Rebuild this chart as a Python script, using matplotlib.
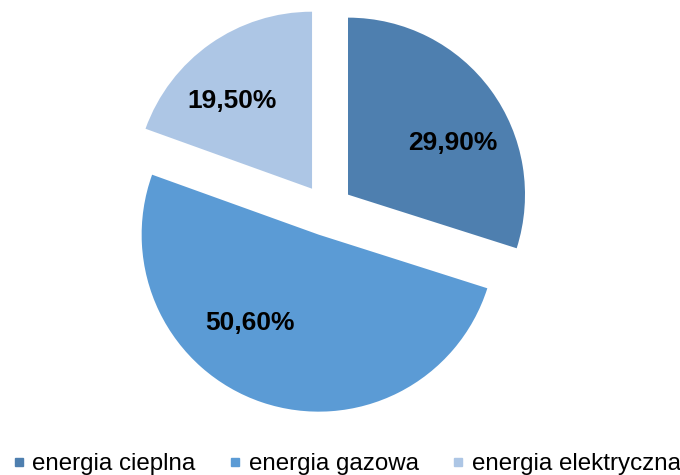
import numpy as np
import matplotlib.pyplot as plt
from matplotlib.lines import Line2D

plt.rcParams['font.family'] = ['Liberation Sans', 'DejaVu Sans']

# data
labels = ['energia cieplna', 'energia gazowa', 'energia elektryczna']
values = [29.9, 50.6, 19.5]
colors = ['#4E7FAF', '#5B9BD5', '#ADC6E5']

fig = plt.figure(figsize=(6.8, 4.75), dpi=100)
ax = fig.add_axes([0, 0, 1, 1])

R = 177.0  # pie radius in px
cx, cy = 327.0, 265.0  # centre in px from bottom-left

wedges, texts, autotexts = ax.pie(values, colors=colors, startangle=90, counterclock=False,
                                  explode=[0.147] * 3, radius=1,
                                  autopct=lambda p: ('%.2f%%' % p).replace('.', ','),
                                  pctdistance=0.8,
                                  textprops=dict(fontsize=19, fontweight='bold', color='black'))
ax.set_aspect('auto')
ax.set_xlim(-cx / R, (680 - cx) / R)
ax.set_ylim(-cy / R, (475 - cy) / R)
ax.axis('off')

# nudge labels to where the original puts them
shifts = [(-0.056, -0.18), (-0.13, 0.26), (0.01, -0.158)]
for t, (dx, dy) in zip(autotexts, shifts):
    x, y = t.get_position()
    t.set_position((x + dx, y + dy))

handles = [Line2D([], [], marker='s', linestyle='none', markersize=5.5,
                  markerfacecolor=c, markeredgecolor=c) for c in colors]
fig.legend(handles, labels, loc='lower center', bbox_to_anchor=(0.51, -0.046), ncol=3,
           frameon=False, fontsize=17.4, handlelength=0.5, handletextpad=0.3,
           columnspacing=1.4)

fig.savefig('out.png', dpi=100)
